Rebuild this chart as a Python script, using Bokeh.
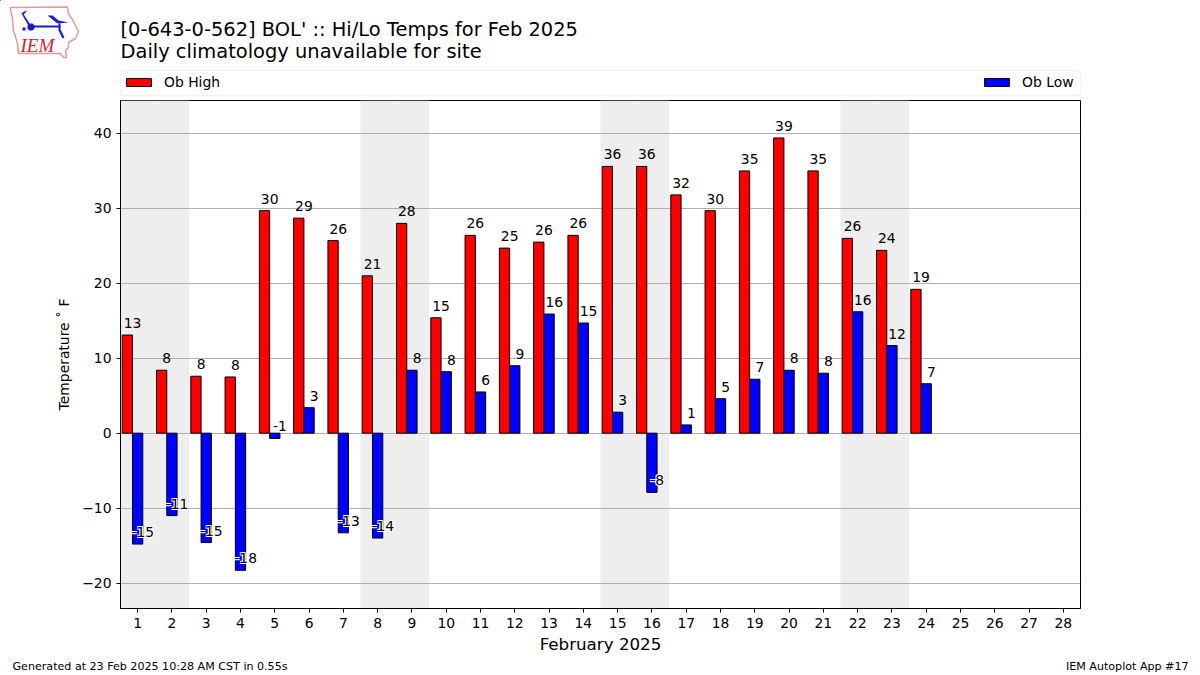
from bokeh.plotting import figure
from bokeh.layouts import column
from bokeh.embed import file_html
from bokeh.resources import INLINE
from bokeh.core.properties import value
from bokeh.models import (ColumnDataSource, Range1d, FixedTicker, Label, Legend, LegendItem,
                          BoxAnnotation, CustomJSTickFormatter)

days = list(range(1, 29))
obs_days = list(range(1, 25))
highs = [13.1, 8.4, 7.6, 7.5, 29.7, 28.7, 25.7, 21.0, 28.0, 15.4, 26.4, 24.7, 25.5, 26.4, 35.6, 35.6, 31.8, 29.7, 35.0, 39.4, 35.0, 26.0, 24.4, 19.2]
lows = [-14.8, -11.0, -14.6, -18.3, -0.7, 3.4, -13.3, -14.0, 8.4, 8.2, 5.5, 9.0, 15.9, 14.7, 2.8, -7.9, 1.1, 4.6, 7.2, 8.4, 8.0, 16.2, 11.7, 6.6]
high_labels = ["13", "8", "8", "8", "30", "29", "26", "21", "28", "15", "26", "25", "26", "26", "36", "36", "32", "30", "35", "39", "35", "26", "24", "19"]
low_labels = ["-15", "-11", "-15", "-18", "-1", "3", "-13", "-14", "8", "8", "6", "9", "16", "15", "3", "-8", "1", "5", "7", "8", "8", "16", "12", "7"]
weekend_days = [1, 2, 8, 9, 15, 16, 22, 23]
y_ticks = [-20, -10, 0, 10, 20, 30, 40]
title_lines = ["[0-643-0-562] BOL' :: Hi/Lo Temps for Feb 2025", "Daily climatology unavailable for site"]

W = 1200
HEAD_H, MAIN_H, FOOT_H = 98, 558, 19
FL, FR, FT, FB = 120, 1080, 100, 608
FONT = "DejaVu Sans"
YMIN, YMAX = -23.4, 44.4

def strip(y0, y1):
    f = figure(width=W, height=y1 - y0, output_backend="svg", toolbar_location=None,
               x_range=Range1d(0, W), y_range=Range1d(y1, y0), x_axis_type=None, y_axis_type=None,
               min_border=0, background_fill_color="white", border_fill_color="white", frame_align=False)
    f.outline_line_color = None
    f.grid.visible = False
    return f

head = strip(0, HEAD_H)
foot = strip(HEAD_H + MAIN_H, HEAD_H + MAIN_H + FOOT_H)

p = figure(width=W, height=MAIN_H, output_backend="svg", toolbar_location=None,
           x_range=Range1d(0.5, 28.5), y_range=Range1d(YMIN, YMAX), frame_align=False,
           min_border_left=FL, min_border_right=W - FR, min_border_top=FT - HEAD_H,
           min_border_bottom=HEAD_H + MAIN_H - FB,
           background_fill_color="white", border_fill_color="white")
p.outline_line_color = "black"
p.outline_line_width = 1

p.xgrid.visible = False
p.ygrid.grid_line_color = "#b0b0b0"
p.ygrid.grid_line_width = 1
p.ygrid.ticker = FixedTicker(ticks=y_ticks)

for ax in (p.xaxis[0], p.yaxis[0]):
    ax.major_tick_line_color = "black"
    ax.major_tick_out = 4
    ax.major_tick_in = 0
    ax.minor_tick_line_color = None
    ax.axis_line_color = "black"
    ax.major_label_text_font = FONT
    ax.major_label_text_font_size = "13.9px"
    ax.major_label_text_color = "black"
    ax.axis_label_text_font = FONT
    ax.axis_label_text_font_style = "normal"
    ax.axis_label_text_color = "black"
p.xaxis.ticker = FixedTicker(ticks=days)
p.yaxis.ticker = FixedTicker(ticks=y_ticks)
p.yaxis.formatter = CustomJSTickFormatter(code="return String(tick).replace('-', '\u2212');")
p.xaxis.axis_label = "February 2025"
p.xaxis.axis_label_text_font_size = "16.7px"
p.xaxis.axis_label_standoff = 3
p.yaxis.axis_label = "Temperature \u02da F"
p.yaxis.axis_label_text_font_size = "13.9px"
p.yaxis.axis_label_standoff = 7

# weekend shading, under the grid
p.vbar(x=weekend_days, width=1, bottom=YMIN, top=YMAX, fill_color="#eeeeee", line_color=None, level="image")

BAR = 0.3
hi_src = ColumnDataSource(dict(x=[d - BAR for d in obs_days], lx=[d - BAR / 2 for d in obs_days], y=highs, t=high_labels))
lo_src = ColumnDataSource(dict(x=obs_days, lx=[d + BAR / 2 for d in obs_days], y=lows, t=low_labels))
p.vbar(x="x", top="y", bottom=0, width=BAR, source=hi_src, fill_color="red", line_color="black", line_width=1)
p.vbar(x="x", top="y", bottom=0, width=BAR, source=lo_src, fill_color="blue", line_color="black", line_width=1)

LABEL_UP = -7
neg = [i for i, v in enumerate(lows) if v < 0]
halo_src = ColumnDataSource(dict(lx=[lo_src.data["lx"][i] for i in neg], y=[lows[i] for i in neg], t=[low_labels[i] for i in neg]))
for dx, dy in ((-1, -1), (1, -1), (-1, 1), (1, 1)):
    p.text(x="lx", y="y", text="t", source=halo_src, text_align="center", text_baseline="bottom",
           x_offset=dx, y_offset=LABEL_UP + dy,
           text_font=value(FONT), text_font_size="13.9px", text_color="white")
for src in (hi_src, lo_src):
    p.text(x="lx", y="y", text="t", source=src, text_align="center", text_baseline="bottom", y_offset=LABEL_UP,
           text_font=value(FONT), text_font_size="13.9px", text_color="black")

# header: titles, logo, legend
box = BoxAnnotation(left=FL, right=FR, top=70, bottom=95, fill_color="white", fill_alpha=1,
                    line_color="#cfcfcf", line_width=1.3, border_radius=3, level="underlay")
head.add_layout(box)
offscreen = ColumnDataSource(dict(x=[-50], top=[-50], bottom=[-60]))
r_hi = head.vbar(x="x", top="top", bottom="bottom", width=1, source=offscreen, fill_color="red", line_color="black")
r_lo = head.vbar(x="x", top="top", bottom="bottom", width=1, source=offscreen, fill_color="blue", line_color="black")
lg = Legend(items=[LegendItem(label="Ob High", renderers=[r_hi]), LegendItem(label="Ob Low", renderers=[r_lo])],
            orientation="horizontal", location=(123, 8), spacing=761,
            background_fill_alpha=0, border_line_color=None,
            glyph_width=31, glyph_height=10, label_text_font=FONT, label_text_font_size="13.9px",
            label_text_color="black", label_standoff=10, margin=0, padding=0)
head.add_layout(lg, "center")

def txt(fig, text, x, y, size, **kw):
    fig.add_layout(Label(x=x, y=y, text=text, text_font=kw.pop("font", FONT), text_font_size=size,
                         text_color=kw.pop("color", "black"), text_baseline="middle", **kw))

txt(head, title_lines[0], 120, 29, "19.45px")
txt(head, title_lines[1], 120, 51, "19.45px")
txt(head, "IEM", 20, 45, "19px", font="Liberation Serif", color="#d8242c", text_font_style="italic")
txt(foot, "Generated at 23 Feb 2025 10:28 AM CST in 0.55s", 12, 666, "11.1px")
txt(foot, "IEM Autoplot App #17", 1188, 666, "11.1px", text_align="right")

logo_outline = [(9.5, 7), (67, 6.5), (68, 13), (73, 21), (78, 31), (75, 38), (68, 42), (68, 47), (65, 50), (66, 57),
                (63, 57), (60, 53), (18, 53), (17, 43), (13, 30), (12, 18)]
logo_blue = [
    [(31, 25), (60, 25), (60, 27), (31, 27)],
    [(29, 23), (32, 23), (34, 25), (34, 28), (32, 30), (29, 30), (27, 28), (27, 25)],
    [(31, 26), (22, 12), (21, 13), (29, 27)],
    [(22, 12), (26, 10), (26, 11), (23, 14)],
    [(47, 15), (52, 15), (58, 20), (68, 22), (57, 23)],
    [(58, 23), (60, 23), (60, 30), (58, 30)],
    [(60, 29), (64, 37), (62, 38), (58, 30)],
    [(22, 27), (25, 27), (25, 30), (22, 30)],
]
head.patch([a for a, b in logo_outline], [b for a, b in logo_outline], fill_alpha=0, line_color="#e39a9a", line_width=1.5)
for pts in logo_blue:
    head.patch([a for a, b in pts], [b for a, b in pts], fill_color="#1a1ad6", line_color=None)

page = column(head, p, foot, spacing=0)
out = open("out.html", "w")
out.write(file_html(page, INLINE))
out.close()
